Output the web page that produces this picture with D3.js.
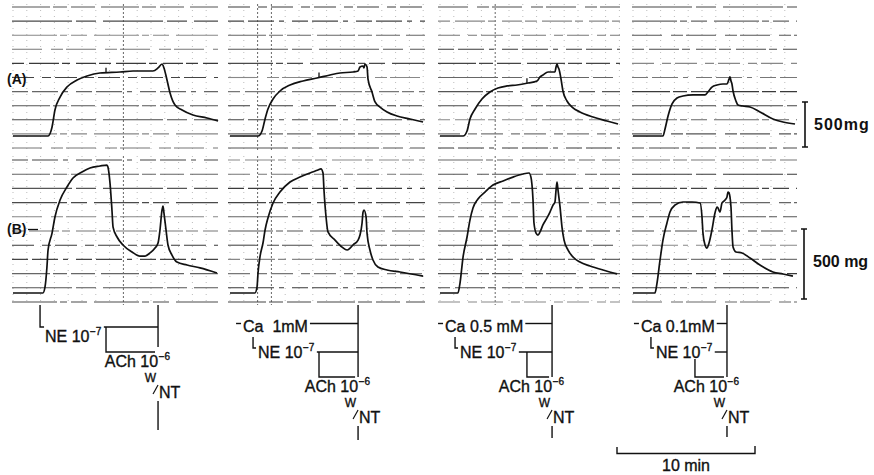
<!DOCTYPE html>
<html><head><meta charset="utf-8">
<script src="https://cdn.jsdelivr.net/npm/d3@7"></script>
<style>
body{margin:0;background:#fff}
svg{display:block}
text{font-family:"Liberation Sans",Arial,Helvetica,sans-serif;fill:#111}
text.ann{stroke:#111;stroke-width:0.35px}
</style>
</head><body>
<svg id="c" width="874" height="475"></svg>
<script>
// ---------------- DATA ----------------
const conditions = ["Control", "Ca 1mM", "Ca 0.5 mM", "Ca 0.1mM"];
const caLabels = ["", "Ca\u00a0 1mM", "Ca 0.5 mM", "Ca 0.1mM"];
const rowLabels = ["(A)", "(B)"];
const scaleLabels = ["500mg", "500 mg"];
const scaleValue = 500;          // mg per calibration bar
const timeBarMinutes = 10;
const timeBarLabel = "10 min";

// drug events (min from start of each record)
const eventNE  = [1.96, 1.67, 1.09, 1.30];
const eventACh = [6.74, 6.45, 6.30, 4.49];
const eventW   = [10.51, 9.28, 8.12, 6.81];

// Trace A (tension, mg) per condition
const tA1 = [0,2.54,2.83,3.04,3.41,3.91,4.64,5.36,6.30,7.75,8.70,10.14,10.51,10.80,10.94,11.16,11.38,11.74,12.25,13.04,14.06,14.86];
const vA1 = [0,0,100,289,433,544,622,667,700,711,722,722,756,800,756,622,478,344,289,233,200,167];
const tA2 = [0,2.03,2.32,2.54,2.75,3.12,3.62,4.35,5.29,6.30,7.25,7.97,8.91,9.28,9.42,9.64,9.71,9.78,9.93,10.0,10.29,10.51,10.87,11.38,12.10,13.04,13.99];
const vA2 = [0,0,56,189,300,411,500,567,611,644,678,700,711,722,767,778,756,800,767,633,489,378,322,267,222,189,156];
const tA3 = [0,1.67,1.96,2.17,2.54,3.04,3.62,4.20,4.86,5.58,6.38,7.03,7.25,7.46,7.83,8.33,8.41,8.48,8.55,8.62,8.77,8.91,9.20,9.57,10.14,11.09,12.10,12.90];
const vA3 = [0,0,56,189,300,411,489,533,556,567,589,611,656,678,711,711,767,800,767,744,633,500,389,322,267,211,167,133];
const tA4 = [0,2.17,2.32,2.54,2.83,3.19,3.62,4.35,5.22,5.43,5.72,6.09,6.52,6.81,6.96,7.03,7.10,7.17,7.25,7.46,7.61,7.97,8.48,9.20,10.14,10.87,11.74];
const vA4 = [0,0,78,222,356,422,444,456,456,489,544,567,578,578,633,656,611,578,500,389,344,333,322,267,189,156,133];

// Trace B (tension, mg) per condition
const tB1 = [0,2.17,2.32,2.46,2.54,2.83,3.04,3.41,3.91,4.35,5.0,5.58,6.30,6.81,6.88,7.03,7.17,7.25,7.54,7.97,8.62,9.20,9.57,9.93,10.29,10.51,10.65,10.80,10.87,10.94,11.09,11.23,11.52,11.88,12.61,13.55,14.78];
const vB1 = [0,0,43,186,307,428,543,664,757,821,864,893,907,914,900,785,593,471,400,343,293,264,264,286,321,357,450,593,621,571,450,343,271,221,200,179,143];
const tB2 = [0,1.81,1.96,2.03,2.17,2.39,2.54,2.75,3.12,3.62,4.35,5.07,5.80,6.38,6.59,6.74,6.81,6.96,7.10,7.61,8.12,8.48,8.70,8.91,9.28,9.42,9.57,9.64,9.71,9.86,9.93,10.14,10.36,10.72,11.38,12.32,13.99];
const vB2 = [0,0,43,143,257,357,450,536,643,721,793,828,857,878,886,857,736,543,436,378,328,307,321,343,378,414,500,578,593,543,428,307,236,186,164,150,121];
const tB3 = [0,1.30,1.45,1.67,1.96,2.17,2.39,2.75,3.26,3.84,4.57,5.29,6.01,6.45,6.59,6.74,6.81,6.96,7.10,7.25,7.46,7.75,7.97,8.19,8.33,8.41,8.48,8.55,8.70,8.84,8.99,9.28,9.64,10.14,10.87,11.81,12.83];
const vB3 = [0,0,71,257,400,521,607,671,721,771,800,828,850,857,828,664,500,428,414,436,486,536,578,628,650,736,793,736,614,471,378,307,257,221,193,164,136];
const tB4 = [0,1.59,1.74,1.96,2.17,2.46,2.68,3.04,3.62,4.28,4.86,5.0,5.07,5.22,5.36,5.51,5.72,5.94,6.09,6.16,6.30,6.45,6.67,6.81,6.88,6.96,7.10,7.17,7.25,7.46,7.90,8.48,9.20,10.14,10.87,11.59];
const vB4 = [0,0,71,236,378,500,578,628,650,650,643,543,428,343,321,357,450,571,614,607,578,643,664,686,721,714,614,450,328,293,286,250,200,150,136,121];

const tracesA = [[tA1,vA1],[tA2,vA2],[tA3,vA3],[tA4,vA4]];
const tracesB = [[tB1,vB1],[tB2,vB2],[tB3,vB3],[tB4,vB4]];
const achMarkOnA = [true, true, true, false];

// ---------------- LAYOUT ----------------
const svg = d3.select("#c");
const pxPerMin = 13.8;
const panelX0 = [13, 230, 440, 633];
const paperX = [[12,218],[228,425],[438,620],[632,797]];
const darkMinutes = [[8], [2,3], [4], []];
const xScales = panelX0.map(x0 => d3.scaleLinear().domain([0, 15]).range([x0, x0 + 15 * pxPerMin]));
const yA = d3.scaleLinear().domain([0, 500]).range([136, 91]);
const yB = d3.scaleLinear().domain([0, 500]).range([293, 223]);
const papers = [
  {lines: d3.range(11).map(k => 7 + 14.1 * k), top: 4, bottom: 150},
  {lines: d3.range(11).map(k => 160 + 14.2 * k), top: 156, bottom: 305}
];
const dashPatterns = ["38,3,14,4,24,6","12,5,30,3,8,6,20,3","60,4,20,7","22,8,9,4","45,3,7,4,16,7","16,4,26,5,5,8","30,9,12,3"];
const lineColors = ["#555","#444","#777","#4a4a4a","#666","#3a3a3a","#888"];

// chart paper
papers.forEach((pp, r) => {
  paperX.forEach((px, p) => {
    const g = svg.append("g");
    const xs = xScales[p];
    const nMin = Math.floor((px[1] - panelX0[p]) / pxPerMin);
    g.selectAll("line.v").data(d3.range(0, nMin + 1)).join("line")
      .attr("x1", d => xs(d)).attr("x2", d => xs(d))
      .attr("y1", pp.top).attr("y2", pp.bottom)
      .attr("stroke", d => darkMinutes[p].includes(d) ? "#666" : "#bbb")
      .attr("stroke-width", 1)
      .attr("stroke-dasharray", d => darkMinutes[p].includes(d) ? "2,2" : "1,5");
    g.selectAll("line.h").data(pp.lines).join("line")
      .attr("x1", px[0]).attr("x2", px[1])
      .attr("y1", d => d).attr("y2", d => d)
      .attr("stroke", (d,k) => lineColors[(k * 3 + p * 5 + r) % lineColors.length])
      .attr("stroke-width", 1.1)
      .attr("stroke-dasharray", (d,k) => dashPatterns[(k * 2 + p * 3 + r * 5) % dashPatterns.length]);
  });
});

// traces
const lineA = (xs) => d3.line().x(d => xs(d[0])).y(d => yA(d[1])).curve(d3.curveMonotoneX);
const lineB = (xs) => d3.line().x(d => xs(d[0])).y(d => yB(d[1])).curve(d3.curveMonotoneX);
tracesA.forEach(([t, v], p) => {
  const pts = t.map((d,i) => [d, v[i]]);
  svg.append("path").attr("d", lineA(xScales[p])(pts))
    .attr("fill","none").attr("stroke","#111").attr("stroke-width",1.7).attr("stroke-linejoin","round");
  if (achMarkOnA[p]) {
    const val = d3.scaleLinear().domain(t).range(v)(eventACh[p]);
    const xx = xScales[p](eventACh[p]);
    svg.append("line").attr("x1", xx).attr("x2", xx)
      .attr("y1", yA(val)).attr("y2", yA(val) - 5)
      .attr("stroke","#111").attr("stroke-width",1.3);
  }
});
tracesB.forEach(([t, v], p) => {
  const pts = t.map((d,i) => [d, v[i]]);
  svg.append("path").attr("d", lineB(xScales[p])(pts))
    .attr("fill","none").attr("stroke","#111").attr("stroke-width",1.7).attr("stroke-linejoin","round");
});

// row labels
svg.append("text").attr("x", 7).attr("y", 84).attr("font-size", 14).attr("font-weight","bold").text(rowLabels[0]);
svg.append("text").attr("x", 7).attr("y", 234).attr("font-size", 14).attr("font-weight","bold").text(rowLabels[1]);
svg.append("line").attr("x1", 28).attr("x2", 38).attr("y1", 229.5).attr("y2", 229.5).attr("stroke","#111").attr("stroke-width",1.3);

// calibration bars
function calBar(x, y0, y1, label, ty) {
  svg.append("path").attr("d", `M${x-3},${y0}H${x+3}M${x},${y0}V${y1}M${x-3},${y1}H${x+3}`)
    .attr("stroke","#111").attr("stroke-width",1.6).attr("fill","none");
  svg.append("text").attr("x", x + 9).attr("y", ty).attr("font-size", 16).attr("font-weight","bold")
    .attr("letter-spacing", label.includes(" ") ? 0 : 1).text(label);
}
calBar(805, 147, 147 - (yA(0) - yA(scaleValue)), scaleLabels[0], 130);
calBar(804, 299, 299 - (yB(0) - yB(scaleValue)), scaleLabels[1], 267);

// annotations
const ink = "#111";
function path(d, w) { svg.append("path").attr("d", d).attr("fill","none").attr("stroke", ink).attr("stroke-width", w || 1.4); }
function supText(x, y, base, exp, anchor) {
  const t = svg.append("text").attr("class","ann").attr("x", x).attr("y", y).attr("font-size", 16).attr("text-anchor", anchor || "start");
  t.append("tspan").text(base);
  if (exp) t.append("tspan").attr("font-size", 10).attr("dx", 0.5).attr("dy", -7).text(exp);
  return t;
}
const vertBottom = [430, 440, 438, 437];
conditions.forEach((c, p) => {
  const xs = xScales[p];
  const xN = xs(eventNE[p]), xA = xs(eventACh[p]), xW = xs(eventW[p]);
  const hasCa = p > 0;
  const neY = hasCa ? 352 : 327;
  const neBase = hasCa ? 358 : 342;
  path(`M${xW},305V${hasCa ? 377 : 347}`);
  if (hasCa) {
    const tx = xN - 10;
    const ct = svg.append("text").attr("class","ann").attr("x", tx).attr("y", 332).attr("font-size", 16).text(caLabels[p]);
    const bb = ct.node().getBBox();
    path(`M${tx-7},323.5H${tx-2}`);
    path(`M${bb.x + bb.width + 2},323.5H${xW}`);
    path(`M${xN},337V348H${xN+3}`);
  } else {
    path(`M${xN},305V${neY}H${xN+4}`);
  }
  const nt = supText(xN + 5, neBase, "NE 10", "\u22127");
  const nb = nt.node().getBBox();
  const neEnd = nb.x + nb.width + 2;
  path(`M${neEnd},${neY}H${xW}`);
  const brTop = xA > neEnd - 2 ? neY : neBase + 1;
  path(`M${xA},${brTop}V${neY + 25}H${xW - 3}`);
  supText(xW + 12, neY + 40, "ACh 10", "\u22126", "end");
  // W/NT
  svg.append("text").attr("class","ann").attr("x", xW - 2).attr("y", neY + 55).attr("font-size", 12).attr("text-anchor","end").text("W");
  path(`M${xW-5},${neY+67}L${xW},${neY+58}`, 1.2);
  svg.append("text").attr("class","ann").attr("x", xW + 1).attr("y", neY + 71).attr("font-size", 16).text("NT");
  path(`M${xW},${neY + 74}V${vertBottom[p]}`);
});

// time bar
const tb = d3.scaleLinear().domain([0, timeBarMinutes]).range([617, 617 + timeBarMinutes * pxPerMin]);
path(`M${tb(0)},447V453.5H${tb(timeBarMinutes)}V446`);
svg.append("text").attr("class","ann").attr("x", (tb(0) + tb(timeBarMinutes)) / 2).attr("y", 471).attr("font-size", 16)
  .attr("text-anchor","middle").text(timeBarLabel);
</script>
</body></html>
